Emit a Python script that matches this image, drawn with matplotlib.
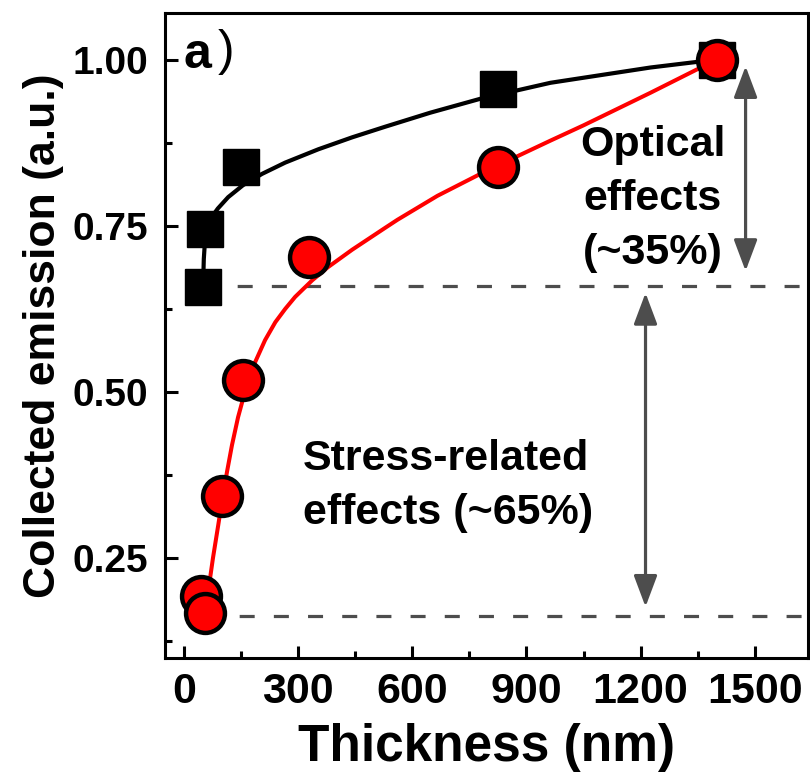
import matplotlib
matplotlib.use('Agg')
import matplotlib.pyplot as plt
from matplotlib.ticker import MultipleLocator

plt.rcParams['font.family'] = ['Liberation Sans', 'DejaVu Sans']
plt.rcParams['font.weight'] = 'bold'
plt.rcParams['axes.labelweight'] = 'bold'

# measured points
thick_sq = [50, 55, 150, 826, 1400]
emis_sq = [0.658, 0.745, 0.838, 0.955, 1.0]
thick_ci = [45, 55, 100, 155, 329, 826, 1400]
emis_ci = [0.193, 0.167, 0.344, 0.518, 0.703, 0.838, 1.0]

# fit curves
fit_x_black = [50, 52, 56, 65, 89, 116, 155, 205, 266, 353, 442, 529, 647, 779, 963, 1226, 1400]
fit_y_black = [0.658, 0.70, 0.735, 0.757, 0.776, 0.793, 0.811, 0.828, 0.845, 0.865, 0.883,
               0.899, 0.920, 0.941, 0.965, 0.988, 1.0]
fit_x_red = [55, 68, 76, 90, 100, 113, 126, 142, 160, 187, 213, 240, 266, 292, 337, 379, 442,
             529, 561, 666, 779, 826, 963, 1050, 1226, 1400]
fit_y_red = [0.168, 0.218, 0.250, 0.300, 0.337, 0.380, 0.420, 0.462, 0.500, 0.545, 0.578,
             0.605, 0.625, 0.643, 0.668, 0.688, 0.714, 0.747, 0.759, 0.795, 0.828, 0.841,
             0.878, 0.901, 0.950, 1.0]

# reference levels and arrows
level_optical = 0.66
level_stress = 0.163
optical_arrow = (1476, 0.990, 0.682)
stress_arrow = (1213, 0.649, 0.177)

fig = plt.figure(figsize=(8.1, 7.82), dpi=100)
ax = fig.add_axes([0.2037, 0.1586, 0.7938, 0.8248])

grey = '#4d4d4d'
ax.plot([thick_sq[0], 1700], [level_optical, level_optical], ls=(0, (4.7, 6)), color=grey, lw=2.3, zorder=1)
ax.plot([thick_ci[1], 1700], [level_stress, level_stress], ls=(0, (4.7, 6)), color=grey, lw=2.3, zorder=1)

ax.plot(fit_x_black, fit_y_black, color='black', lw=3, zorder=2)
ax.plot(thick_sq, emis_sq, ls='none', marker='s', ms=26, color='black', zorder=3)
ax.plot(fit_x_red, fit_y_red, color='#ff0000', lw=2.9, zorder=4)
ax.plot(thick_ci, emis_ci, ls='none', marker='o', ms=28, mfc='#ff0000', mec='black', mew=3.2, zorder=5)

for x, y1, y2 in [optical_arrow, stress_arrow]:
    ax.annotate('', xy=(x, y2), xytext=(x, y1),
                arrowprops=dict(arrowstyle='<|-|>,head_length=1.2,head_width=0.45',
                                color=grey, lw=2.3, mutation_scale=16,
                                shrinkA=0, shrinkB=0))

ax.text(1232, 0.79, 'Optical\neffects\n(~35%)', ha='center', va='center',
        fontsize=31, linespacing=1.45)
ax.text(313, 0.358, 'Stress-related\neffects (~65%)', ha='left', va='center',
        fontsize=31, linespacing=1.45)
ax.text(0.029, 0.935, 'a', transform=ax.transAxes, fontsize=36, va='center', ha='left')
ax.text(0.082, 0.94, ')', transform=ax.transAxes, fontsize=36, va='center', ha='left',
        fontweight='normal')

ax.set_xlim(-50, 1640)
ax.set_ylim(0.10, 1.07)
ax.xaxis.set_major_locator(MultipleLocator(300))
ax.xaxis.set_minor_locator(MultipleLocator(150))
ax.yaxis.set_major_locator(MultipleLocator(0.25))
ax.yaxis.set_minor_locator(MultipleLocator(0.125))
ax.yaxis.set_major_formatter(plt.FormatStrFormatter('%.2f'))
ax.tick_params(which='both', direction='in', width=2.2)
ax.tick_params(which='major', length=9, pad=12)
ax.tick_params(which='minor', length=5)
ax.tick_params(axis='x', labelsize=31, pad=10)
ax.tick_params(axis='y', labelsize=28)
for s in ax.spines.values():
    s.set_linewidth(2.2)

ax.set_xlabel('Thickness (nm)', fontsize=37, labelpad=8)
ax.set_ylabel('Collected emission (a.u.)', fontsize=32, labelpad=6)

fig.savefig('out.png', dpi=100)
